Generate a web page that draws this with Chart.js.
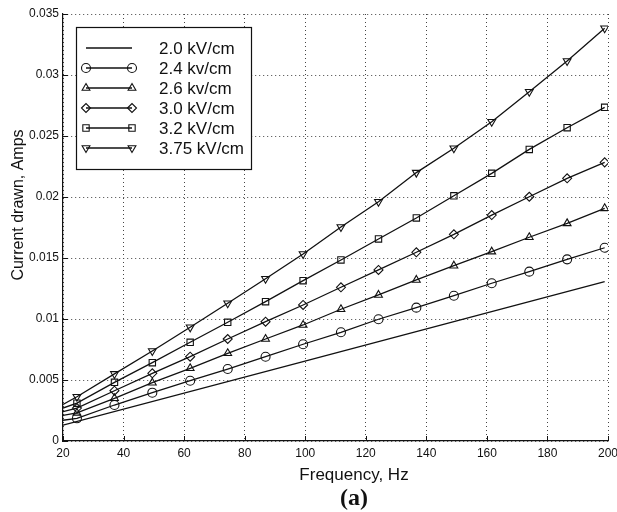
<!DOCTYPE html>
<html>
<head>
<meta charset="utf-8">
<script src="https://cdn.jsdelivr.net/npm/chart.js@4.4.1/dist/chart.umd.min.js"></script>
<style>
  body { margin: 0; background: #fff; }
  #wrap { width: 617px; height: 512px; }
</style>
</head>
<body>
<div id="wrap"><canvas id="myChart" width="617" height="512"></canvas></div>
<script>
// frequencies (Hz); first value is the line start at the left edge (no marker there)
const freqs = [20, 24.6, 37.0, 49.5, 62.0, 74.4, 86.9, 99.3, 111.8, 124.2, 136.7, 149.1, 161.6, 174.0, 186.5, 198.9];

// current drawn (Amps) per field strength
const amps375 = [0.0030, 0.00363, 0.0055, 0.00738, 0.00932, 0.01129, 0.0133, 0.01533, 0.01754, 0.01961, 0.0220, 0.0240, 0.02617, 0.02863, 0.03115, 0.03383];
const amps32  = [0.0027, 0.0031, 0.00481, 0.00642, 0.00809, 0.00973, 0.01142, 0.01314, 0.01484, 0.01656, 0.01828, 0.0201, 0.02194, 0.0239, 0.02568, 0.02735];
const amps30  = [0.0024, 0.0027, 0.00412, 0.00555, 0.00691, 0.00836, 0.00978, 0.01115, 0.0126, 0.01402, 0.01547, 0.01694, 0.01852, 0.02002, 0.02153, 0.02284];
const amps26  = [0.0021, 0.0023, 0.0035, 0.00478, 0.00596, 0.00719, 0.00836, 0.00951, 0.0108, 0.01197, 0.0132, 0.01437, 0.01552, 0.0167, 0.01784, 0.01907];
const amps24  = [0.0017, 0.00186, 0.00295, 0.00396, 0.00494, 0.0059, 0.00691, 0.00793, 0.00891, 0.00998, 0.01093, 0.01191, 0.01293, 0.01388, 0.01489, 0.01584];

// 2.0 kV/cm is a plain line
const freqs20 = [20, 99.3, 198.9];
const amps20  = [0.0013, 0.0065, 0.01306];

const seriesLabels = ["2.0 kV/cm", "2.4 kv/cm", "2.6 kv/cm", "3.0 kV/cm", "3.2 kV/cm", "3.75 kV/cm"];
const xTickLabels = ["20", "40", "60", "80", "100", "120", "140", "160", "180", "200"];
const yTickLabels = ["0", "0.005", "0.01", "0.015", "0.02", "0.025", "0.03", "0.035"];

const FONT = "'Liberation Sans', Arial, Helvetica, sans-serif";
const INK = "#111";

function toPoints(xs, ys) {
    return ys.map((y, i) => ({ x: xs[i], y: y }));
}

function series(label, ys, style, rot) {
    return {
        label: label,
        data: toPoints(freqs, ys),
        borderColor: INK,
        borderWidth: 1.3,
        backgroundColor: "rgba(0,0,0,0)",
        pointStyle: style,
        rotation: rot,
        pointRadius: ctx => ctx.dataIndex === 0 ? 0 : 4.5,
        pointBorderWidth: 1.1,
        pointBorderColor: INK,
        tension: 0
    };
}

const datasets = [
    {
        label: seriesLabels[0],
        data: toPoints(freqs20, amps20),
        borderColor: INK,
        borderWidth: 1.3,
        pointRadius: 0,
        pointStyle: false,
        tension: 0
    },
    series(seriesLabels[1], amps24, "circle", 0),
    series(seriesLabels[2], amps26, "triangle", 0),
    series(seriesLabels[3], amps30, "rectRot", 0),
    series(seriesLabels[4], amps32, "rect", 0),
    series(seriesLabels[5], amps375, "triangle", 180)
];

// texts, inward ticks and the boxed legend
const extras = {
    id: "extras",
    beforeDraw(chart) {
        const ctx = chart.ctx;
        ctx.save();
        ctx.fillStyle = "#fff";
        ctx.fillRect(0, 0, chart.width, chart.height);
        ctx.restore();
    },
    afterDraw(chart) {
        const ctx = chart.ctx;
        const xs = chart.scales.x, ys = chart.scales.y;
        const area = chart.chartArea;
        ctx.save();

        // inward tick marks
        ctx.strokeStyle = INK;
        ctx.lineWidth = 1;
        ctx.beginPath();
        xs.ticks.forEach(t => {
            const px = Math.round(xs.getPixelForValue(t.value)) + 0.5;
            ctx.moveTo(px, area.bottom);
            ctx.lineTo(px, area.bottom - 5);
        });
        ys.ticks.forEach(t => {
            const py = Math.round(ys.getPixelForValue(t.value)) + 0.5;
            ctx.moveTo(area.left, py);
            ctx.lineTo(area.left + 5, py);
        });
        ctx.stroke();

        // axis titles
        ctx.fillStyle = INK;
        ctx.textAlign = "center";
        ctx.textBaseline = "middle";
        ctx.font = "17px " + FONT;
        ctx.fillText("Frequency, Hz", 354, 475);
        ctx.font = "bold 24px 'Liberation Serif', 'DejaVu Serif', serif";
        ctx.fillText("(a)", 354, 499);

        ctx.save();
        ctx.translate(19, 205);
        ctx.rotate(-Math.PI / 2);
        ctx.font = "16px " + FONT;
        ctx.fillText("Current drawn, Amps", 0, 0);
        ctx.restore();

        // legend box
        const bx = 76, by = 27, bw = 175, bh = 142;
        ctx.fillStyle = "#fff";
        ctx.fillRect(bx, by, bw, bh);
        ctx.strokeStyle = INK;
        ctx.lineWidth = 1.2;
        ctx.strokeRect(bx + 0.5, by + 0.5, bw, bh);

        chart.data.datasets.forEach((ds, i) => {
            const cy = 48 + i * 20;
            ctx.strokeStyle = INK;
            ctx.lineWidth = 1.3;
            ctx.beginPath();
            ctx.moveTo(86, cy);
            ctx.lineTo(132, cy);
            ctx.stroke();
            if (ds.pointStyle) {
                [86, 132].forEach(px => {
                    ctx.fillStyle = "rgba(0,0,0,0)";
                    ctx.strokeStyle = INK;
                    ctx.lineWidth = 1.1;
                    Chart.helpers.drawPoint(ctx, {
                        pointStyle: ds.pointStyle,
                        radius: 4.5,
                        rotation: ds.rotation || 0,
                        borderWidth: 1.1
                    }, px, cy);
                });
            }
            ctx.fillStyle = INK;
            ctx.textAlign = "left";
            ctx.font = "17px " + FONT;
            ctx.fillText(ds.label, 159, cy + 1);
        });
        ctx.restore();
    }
};

const chart = new Chart(document.getElementById("myChart").getContext("2d"), {
    type: "line",
    data: { datasets: datasets },
    options: {
        responsive: false,
        devicePixelRatio: 1,
        animation: false,
        layout: { padding: { left: 0, right: 9, top: 14, bottom: 0 } },
        plugins: {
            legend: { display: false },
            tooltip: { enabled: false }
        },
        scales: {
            x: {
                type: "linear",
                min: 20,
                max: 200,
                ticks: {
                    stepSize: 20,
                    color: INK,
                    padding: 5,
                    maxRotation: 0,
                    font: { family: FONT, size: 12 },
                    callback: (v, i) => xTickLabels[i]
                },
                grid: { color: "#444", lineWidth: 1, drawTicks: false },
                border: { display: true, color: INK, width: 1.2, dash: [1, 3] },
                afterFit: s => { s.height = 71; s.paddingLeft = 0; s.paddingRight = 0; }
            },
            y: {
                min: 0,
                max: 0.035,
                ticks: {
                    stepSize: 0.005,
                    color: INK,
                    padding: 4,
                    font: { family: FONT, size: 12 },
                    callback: (v, i) => yTickLabels[i]
                },
                grid: { color: "#444", lineWidth: 1, drawTicks: false },
                border: { display: true, color: INK, width: 1.2, dash: [1, 3] },
                afterFit: s => { s.width = 63; s.paddingTop = 0; s.paddingBottom = 0; }
            }
        }
    },
    plugins: [extras]
});
</script>
</body>
</html>
